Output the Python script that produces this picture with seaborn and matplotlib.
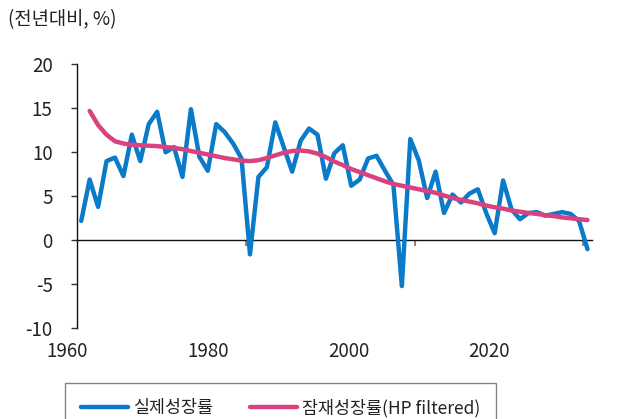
import matplotlib
matplotlib.use("Agg")
import matplotlib.pyplot as plt
import seaborn as sns
import pandas as pd
import numpy as np

# ---- data ----
actual_years = list(range(1960, 2021))
actual_growth = [2.2, 6.9, 3.8, 9.0, 9.4, 7.3, 12.0, 9.0, 13.2, 14.6,
                 10.0, 10.6, 7.2, 14.9, 9.5, 7.9, 13.2, 12.3, 11.0, 9.3,
                 -1.6, 7.2, 8.3, 13.4, 10.6, 7.8, 11.3, 12.7, 12.0, 7.0,
                 9.9, 10.8, 6.2, 6.9, 9.3, 9.6, 7.9, 6.3, -5.2, 11.5,
                 9.1, 4.8, 7.8, 3.1, 5.2, 4.3, 5.3, 5.8, 3.1, 0.8,
                 6.8, 3.5, 2.4, 3.1, 3.2, 2.8, 3.0, 3.2, 3.0, 2.2, -1.0]
potential_years = list(range(1961, 2021))
potential_growth = [14.7, 13.1, 12.0, 11.25, 11.0, 10.85, 10.8, 10.75, 10.7, 10.6,
                    10.5, 10.35, 10.15, 9.95, 9.75, 9.55, 9.35, 9.2, 9.05, 9.0,
                    9.1, 9.35, 9.65, 9.95, 10.15, 10.2, 10.1, 9.85, 9.45, 8.95,
                    8.55, 8.1, 7.75, 7.4, 7.05, 6.7, 6.4, 6.2, 6.0, 5.8,
                    5.6, 5.4, 5.1, 4.8, 4.6, 4.4, 4.2, 3.95, 3.75, 3.6,
                    3.4, 3.25, 3.1, 3.0, 2.85, 2.75, 2.6, 2.5, 2.4, 2.3]
series_names = ["실제성장률", "잠재성장률(HP filtered)"]
y_ticks = [-10, -5, 0, 5, 10, 15, 20]
x_labels = ["1960", "1980", "2000", "2020"]
title_text = "(전년대비, %)"

df = pd.concat([
    pd.DataFrame({"year": actual_years, "value": actual_growth, "series": series_names[0]}),
    pd.DataFrame({"year": potential_years, "value": potential_growth, "series": series_names[1]}),
], ignore_index=True)

sns.set_theme(style="white")
plt.rcParams["font.family"] = ["Noto Sans CJK KR", "DejaVu Sans"]

BLUE = "#0a7bc8"
PINK = "#d9427f"
TXT = "#222222"

fig = plt.figure(figsize=(6.27, 4.19), dpi=100)
ax = fig.add_axes([77 / 627, 1 - 328.3 / 419, 514.7 / 627, 264 / 419])

sns.lineplot(data=df, x="year", y="value", hue="series",
             palette={series_names[0]: BLUE, series_names[1]: PINK},
             linewidth=3.2, ax=ax, legend=True, zorder=3)

ax.set_xlim(1959.5, 2020.5)
ax.set_ylim(-10, 20)
ax.set_xlabel("")
ax.set_ylabel("")

# y axis
ax.set_yticks(y_ticks)
ax.set_yticklabels([str(v) for v in y_ticks])
ax.tick_params(axis="y", direction="out", length=4, width=1.0, color="#333333",
               pad=13.5, labelsize=13.5, labelcolor=TXT, left=True)
for s in ["top", "right"]:
    ax.spines[s].set_visible(False)
ax.spines["left"].set_color("#111111")
ax.spines["left"].set_linewidth(1.0)

# x axis drawn along zero line
ax.spines["bottom"].set_position(("data", 0))
ax.spines["bottom"].set_color("#111111")
ax.spines["bottom"].set_linewidth(1.0)
ax.spines["bottom"].set_zorder(2)
ax.set_xticks([1979.5, 1999.5, 2019.5])
ax.tick_params(axis="x", direction="out", length=4.5, width=1.5, color="#888888",
               labelbottom=False, bottom=True)

# category labels along the bottom as in the reference
label_fracs = [-0.0185, 0.2545, 0.5285, 0.8005]
for frac, lab in zip(label_fracs, x_labels):
    ax.text(frac, -0.0886, lab, transform=ax.transAxes, ha="center", va="center",
            fontsize=13.5, color=TXT)

fig.text(8 / 627, 1 - 20 / 419, title_text, ha="left", va="center",
         fontsize=13.5, color=TXT)

# legend
handles, labels = ax.get_legend_handles_labels()
leg_top = 1 - 383 / 419
leg = ax.legend(handles, labels, ncol=2, loc="upper left",
                bbox_to_anchor=(65 / 627, leg_top - 0.1, 431 / 627, 0.1),
                bbox_transform=fig.transFigure, mode="expand",
                frameon=True, fancybox=False, edgecolor="#666666",
                fontsize=12.5, handlelength=2.7, handletextpad=0.3,
                columnspacing=1.7, borderpad=0.9, borderaxespad=0)
leg.get_frame().set_linewidth(1.0)
for t in leg.get_texts():
    t.set_color(TXT)
for l in leg.get_lines():
    l.set_linewidth(3.2)

fig.savefig("out.png", dpi=100)
